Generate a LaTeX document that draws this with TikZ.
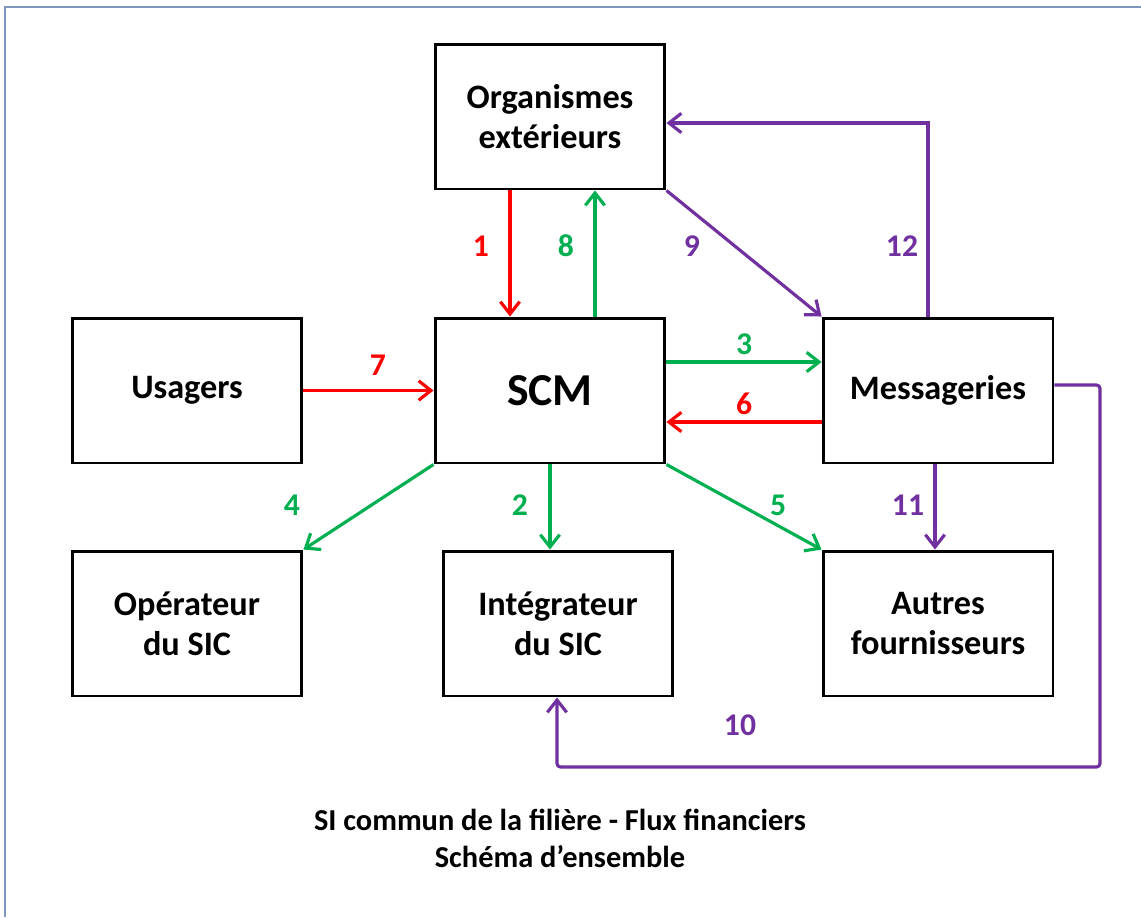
\documentclass[tikz,border=0pt]{standalone}
\usepackage{fontspec}
\setmainfont{Carlito}
\usetikzlibrary{arrows.meta}
\definecolor{rouge}{HTML}{FF0000}
\definecolor{vert}{HTML}{00B050}
\definecolor{violet}{HTML}{7030A0}
\definecolor{cadre}{HTML}{7E98BE}
\tikzset{
	box/.style={draw=black, line width=1.7pt, minimum width=4.6cm, minimum height=2.9cm,
		align=center, font=\fontsize{19.5}{22.7}\selectfont\bfseries},
	flux/.style={line width=1.8pt, -{Straight Barb[length=7pt,width=11pt]}},
	num/.style={font=\fontsize{18}{20}\selectfont\bfseries}
}
\begin{document}
\begin{tikzpicture}[x=0.02cm, y=-0.02cm]
		%%%%% CADRE %%%%%
		\useasboundingbox (0,0) rectangle (1141,917);
		\draw[line width=1.3pt, color=cadre] (5,917) -- (5,7) -- (1141,7);
		
		%%%%% BLOCS %%%%%
		\node[box] (org) at (550,116.5) {Organismes\\extérieurs};
		\node[box, font=\fontsize{26}{30}\selectfont\bfseries] (scm) at (550,390.5) {SCM};
		\node[box] (usa) at (187,390.5) {Usagers};
		\node[box] (mes) at (938,390.5) {Messageries};
		\node[box] (ope) at (187,623.5) {Opérateur\\du SIC};
		\node[box] (int) at (558,623.5) {Intégrateur\\du SIC};
		\node[box] (aut) at (938,623.5) {Autres\\fournisseurs};
		\coordinate (retour) at (1100,767);
		
		%%%%% FLUX %%%%%
		\draw[flux, color=rouge] ([xshift=-0.8cm]org.south) -- ([xshift=-0.8cm]scm.north);
		\draw[flux, color=vert] ([xshift=0.9cm]scm.north) -- ([xshift=0.9cm]org.south);
		\draw[flux, color=violet] (org.south east) -- (mes.north west);
		\draw[flux, color=violet] ([xshift=-0.2cm]mes.north) |- ([yshift=-0.13cm]org.east);
		\draw[flux, color=rouge] (usa.east) -- (scm.west);
		\draw[flux, color=vert] ([yshift=0.57cm]scm.east) -- ([yshift=0.57cm]mes.west);
		\draw[flux, color=rouge] ([yshift=-0.63cm]mes.west) -- ([yshift=-0.63cm]scm.east);
		\draw[flux, color=vert] (scm.south west) -- (ope.north east);
		\draw[flux, color=vert] (scm.south) -- (scm.south |- int.north);
		\draw[flux, color=vert] (scm.south east) -- (aut.north west);
		\draw[flux, color=violet] ([xshift=-0.06cm]mes.south) -- ([xshift=-0.06cm]aut.north);
		\draw[flux, color=violet, rounded corners=2pt] ([yshift=0.11cm]mes.east) -| (retour) -| ([xshift=-0.02cm]int.south);
		
		%%%%% NUMEROS %%%%%
		\node[num, color=rouge] (n1) at (481,246) {1};
		\node[num, color=vert] (n8) at (566,246) {8};
		\node[num, color=violet] (n9) at (692,246) {9};
		\node[num, color=violet] (n12) at (902,246) {12};
		\node[num, color=rouge] (n7) at (378,365) {7};
		\node[num, color=vert] (n3) at (744,344) {3};
		\node[num, color=rouge] (n6) at (744,404) {6};
		\node[num, color=vert] (n4) at (292,505) {4};
		\node[num, color=vert] (n2) at (520,505) {2};
		\node[num, color=vert] (n5) at (778,505) {5};
		\node[num, color=violet] (n11) at (908,505) {11};
		\node[num, color=violet] (n10) at (740,725) {10};
		
		%%%%% TITRE %%%%%
		\node[align=center, font=\fontsize{17.3}{21}\selectfont\bfseries] (titre) at (560,838)
			{SI commun de la filière - Flux financiers\\Schéma d’ensemble};
	\end{tikzpicture}
\end{document}
